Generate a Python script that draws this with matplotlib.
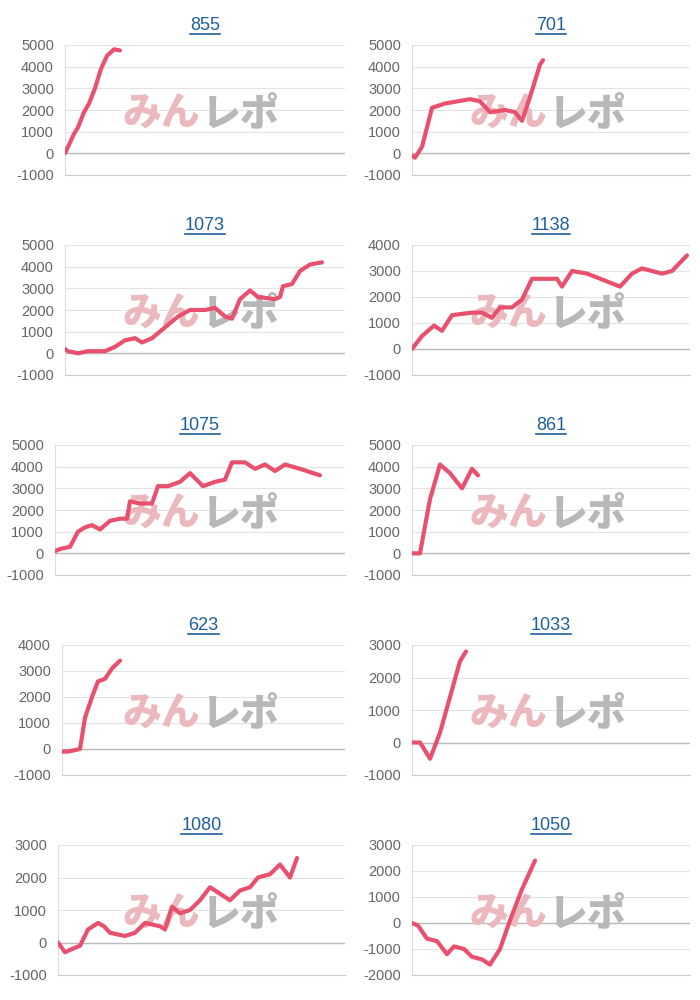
import matplotlib
matplotlib.use("Agg")
import matplotlib.pyplot as plt

plt.rcParams["axes.unicode_minus"] = False
plt.rcParams["font.family"] = ["Liberation Sans", "DejaVu Sans"]

titles = ["855", "701", "1073", "1138", "1075", "861", "623", "1033", "1080", "1050"]

x855 = [0, 3, 9, 13, 19, 24, 30, 36, 42, 49, 55]
y855 = [0, 300, 900, 1200, 1900, 2300, 3000, 3900, 4500, 4800, 4750]
x701 = [0, 3, 10, 20, 33, 58, 68, 78, 93, 103, 110, 118, 128, 131]
y701 = [-100, -200, 300, 2100, 2300, 2500, 2400, 1900, 2000, 1900, 1500, 2600, 4100, 4300]
x1073 = [0, 3, 13, 23, 40, 50, 60, 70, 77, 87, 100, 113, 125, 140, 150, 160, 167, 175, 185, 193, 210, 215, 218, 227, 235, 245, 257]
y1073 = [200, 100, 0, 100, 100, 300, 600, 700, 500, 700, 1200, 1700, 2000, 2000, 2100, 1700, 1600, 2500, 2900, 2600, 2500, 2600, 3100, 3200, 3800, 4100, 4200]
x1138 = [0, 10, 22, 30, 40, 60, 70, 80, 88, 100, 110, 120, 135, 145, 150, 160, 175, 195, 208, 220, 230, 250, 260, 275]
y1138 = [0, 500, 900, 700, 1300, 1400, 1400, 1200, 1600, 1600, 1900, 2700, 2700, 2700, 2400, 3000, 2900, 2600, 2400, 2900, 3100, 2900, 3000, 3600]
x1075 = [0, 5, 15, 23, 30, 37, 45, 55, 65, 72, 75, 85, 97, 103, 113, 125, 135, 148, 160, 170, 177, 190, 200, 210, 220, 230, 245, 265]
y1075 = [100, 200, 300, 1000, 1200, 1300, 1100, 1500, 1600, 1600, 2400, 2300, 2300, 3100, 3100, 3300, 3700, 3100, 3300, 3400, 4200, 4200, 3900, 4100, 3800, 4100, 3900, 3600]
x861 = [0, 8, 18, 28, 38, 50, 60, 66]
y861 = [0, 0, 2500, 4100, 3700, 3000, 3900, 3600]
x623 = [0, 6, 18, 23, 30, 36, 43, 50, 58]
y623 = [-100, -100, 0, 1200, 2000, 2600, 2700, 3100, 3400]
x1033 = [0, 8, 18, 28, 38, 48, 54]
y1033 = [0, 0, -500, 300, 1400, 2500, 2800]
x1080 = [0, 7, 14, 22, 30, 40, 46, 52, 67, 77, 87, 102, 107, 114, 122, 132, 142, 152, 162, 172, 182, 192, 200, 212, 222, 232, 239]
y1080 = [0, -300, -200, -100, 400, 600, 500, 300, 200, 300, 600, 500, 400, 1100, 900, 1000, 1300, 1700, 1500, 1300, 1600, 1700, 2000, 2100, 2400, 2000, 2600]
x1050 = [0, 6, 15, 25, 35, 42, 52, 60, 70, 78, 88, 98, 110, 123]
y1050 = [0, -100, -600, -700, -1200, -900, -1000, -1300, -1400, -1600, -1000, 100, 1300, 2400]

xs = [x855, x701, x1073, x1138, x1075, x861, x623, x1033, x1080, x1050]
ys = [y855, y701, y1073, y1138, y1075, y861, y623, y1033, y1080, y1050]
yranges = [(-1000, 5000), (-1000, 5000), (-1000, 5000), (-1000, 4000), (-1000, 5000),
           (-1000, 5000), (-1000, 4000), (-1000, 3000), (-1000, 3000), (-2000, 3000)]
panel_left = [65, 412, 65, 412, 55, 412, 62, 412, 58, 412]

fig = plt.figure(figsize=(7, 10), dpi=100)
W, H = 700, 1000
titles_art = []
for i in range(10):
    r, c = divmod(i, 2)
    left = panel_left[i]
    top = 45 + 200 * r
    bot = 175 + 200 * r
    right = 345 if c == 0 else 690
    wid = right - left
    ax = fig.add_axes([left / W, 1 - bot / H, wid / W, (bot - top) / H])
    lo, hi = yranges[i]
    ax.set_ylim(lo, hi)
    ax.set_xlim(0, wid)
    ax.set_yticks(range(lo, hi + 1, 1000))
    ax.set_xticks([])
    ax.grid(axis="y", color="#e3e3e3", lw=0.8)
    ax.axhline(0, color="#bbbbbb", lw=1, zorder=1)
    for s in ["top", "right"]:
        ax.spines[s].set_visible(False)
    ax.spines["left"].set_color("#dddddd")
    ax.spines["bottom"].set_color("#cccccc")
    ax.tick_params(axis="y", length=0, labelsize=10.5, colors="#666666", pad=8)
    ax.set_axisbelow(True)
    wx = (200 - left + (0 if c == 0 else 347)) / wid
    ax.text(wx, 0.47, "みん", transform=ax.transAxes, ha="right", va="center",
            fontsize=28, fontweight="heavy", color="#ebb9bd",
            family=["Noto Sans CJK JP", "DejaVu Sans"], zorder=1)
    ax.text(wx + 0.005, 0.47, "レポ", transform=ax.transAxes, ha="left", va="center",
            fontsize=28, fontweight="heavy", color="#b8b8b8",
            family=["Noto Sans CJK JP", "DejaVu Sans"], zorder=1)
    ax.plot(xs[i], ys[i], color="#e8506e", lw=3, solid_capstyle="round", zorder=3)
    cx = (left + right) / 2 / W
    tt = fig.text(cx, 1 - (25 + 200 * r) / H, titles[i], ha="center", va="center",
                  fontsize=13, color="#1f5f9e")
    titles_art.append((tt, r))

fig.canvas.draw()
rend = fig.canvas.get_renderer()
for tt, r in titles_art:
    bb = tt.get_window_extent(rend).transformed(fig.transFigure.inverted())
    y = 1 - (34 + 200 * r) / H
    fig.add_artist(plt.Line2D([bb.x0, bb.x1], [y, y], color="#1f5f9e", lw=1.2))

fig.savefig("out.png", dpi=100, facecolor="white")
